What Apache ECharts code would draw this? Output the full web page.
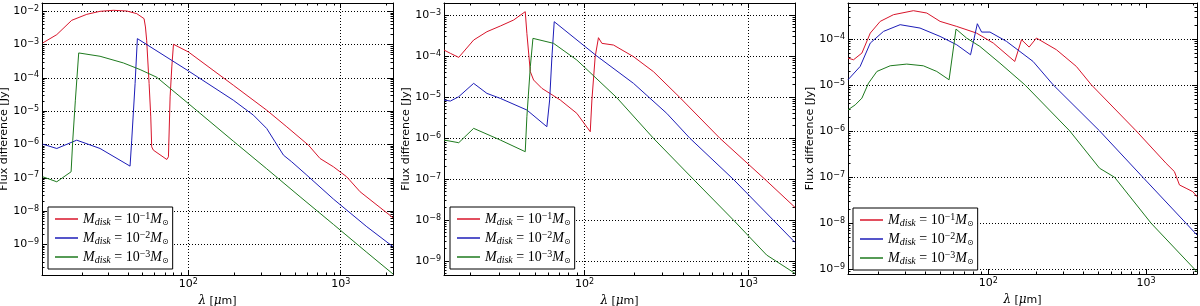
<!DOCTYPE html>
<html><head><meta charset="utf-8">
<script src="https://cdn.jsdelivr.net/npm/echarts@6/dist/echarts.min.js"></script>
<style>html,body{margin:0;padding:0;background:#fff}#c{width:1200px;height:306px}</style>
</head><body><div id="c"></div>
<script>
// ---- Data: log10(lambda [um]) and log10(flux difference [Jy]) ----
const seriesNames = ['Mdisk = 10⁻¹ M⊙', 'Mdisk = 10⁻² M⊙', 'Mdisk = 10⁻³ M⊙'];
const legendExponents = ['−1', '−2', '−3'];

// Panel 1
const p1RedX = [1.044,1.136,1.234,1.333,1.420,1.508,1.595,1.661,1.709,1.718,1.726,1.742,1.753,1.759,1.770,1.858,1.869,1.880,1.891,1.902,2.000,2.295,2.514,2.646,2.788,2.864,2.952,3.039,3.127,3.343];
const p1RedY = [-2.95,-2.70,-2.27,-2.09,-2.00,-1.97,-1.99,-2.07,-2.22,-2.47,-2.87,-4.17,-5.17,-6.07,-6.17,-6.45,-6.37,-4.57,-3.67,-2.99,-3.22,-4.22,-4.97,-5.47,-6.02,-6.42,-6.67,-6.97,-7.42,-8.20];
const p1BlueX = [1.044,1.136,1.267,1.420,1.617,1.628,1.650,1.665,2.000,2.295,2.427,2.514,2.569,2.624,2.678,2.777,2.952,3.171,3.343];
const p1BlueY = [-5.99,-6.12,-5.87,-6.12,-6.65,-5.87,-4.17,-2.82,-3.79,-4.67,-5.12,-5.52,-5.92,-6.32,-6.52,-6.92,-7.64,-8.47,-9.07];
const p1GreenX = [1.044,1.136,1.230,1.241,1.258,1.280,1.420,1.573,1.683,1.792,2.000,2.295,2.514,2.733,2.952,3.171,3.343];
const p1GreenY = [-6.97,-7.12,-6.82,-5.87,-4.67,-3.25,-3.35,-3.55,-3.75,-3.98,-4.77,-5.90,-6.73,-7.57,-8.40,-9.24,-9.89];

// Panel 2
const p2RedX = [1.142,1.181,1.232,1.323,1.404,1.486,1.567,1.638,1.648,1.669,1.689,1.740,1.852,1.953,2.035,2.045,2.065,2.085,2.106,2.177,2.299,2.421,2.583,2.827,3.102,3.285];
const p2RedY = [-3.854,-3.935,-4.033,-3.610,-3.407,-3.268,-3.122,-2.919,-3.447,-4.382,-4.585,-4.789,-5.073,-5.398,-5.846,-5.073,-4.016,-3.553,-3.691,-3.732,-4.016,-4.382,-5.016,-6.008,-7.008,-7.691];
const p2BlueX = [1.142,1.181,1.232,1.323,1.404,1.486,1.648,1.770,1.787,1.801,1.815,2.075,2.299,2.502,2.644,2.909,3.152,3.285];
const p2BlueY = [-5.073,-5.098,-4.992,-4.667,-4.911,-5.033,-5.317,-5.724,-5.073,-4.016,-3.163,-4.000,-4.667,-5.398,-6.008,-7.008,-8.000,-8.545];
const p2GreenX = [1.142,1.232,1.323,1.486,1.638,1.648,1.669,1.685,1.811,1.953,2.197,2.421,2.665,2.909,3.112,3.285];
const p2GreenY = [-6.049,-6.114,-5.764,-6.049,-6.333,-5.480,-4.260,-3.569,-3.691,-4.098,-5.016,-6.008,-7.008,-8.000,-8.854,-9.301];

// Panel 3
const p3RedX = [1.112,1.147,1.200,1.253,1.316,1.400,1.526,1.611,1.695,1.800,1.926,2.032,2.168,2.211,2.259,2.305,2.432,2.558,2.653,2.937,3.126,3.179,3.211,3.253,3.295,3.322];
const p3RedY = [-4.413,-4.449,-4.304,-3.870,-3.616,-3.471,-3.384,-3.435,-3.616,-3.725,-3.870,-4.087,-4.486,-4.014,-4.174,-3.978,-4.232,-4.594,-4.993,-5.993,-6.696,-6.877,-7.167,-7.239,-7.312,-7.420];
const p3BlueX = [1.112,1.189,1.253,1.337,1.442,1.568,1.695,1.800,1.888,1.931,1.958,2.011,2.116,2.284,2.411,2.705,2.979,3.253,3.322];
const p3BlueY = [-4.884,-4.594,-4.087,-3.833,-3.688,-3.761,-3.942,-4.123,-4.341,-3.667,-3.848,-3.848,-4.051,-4.486,-4.993,-5.993,-7.000,-8.000,-8.254];
const p3GreenX = [1.112,1.158,1.200,1.242,1.295,1.379,1.484,1.589,1.674,1.752,1.796,1.863,1.947,2.074,2.232,2.516,2.705,2.800,3.032,3.322];
const p3GreenY = [-5.536,-5.428,-5.283,-4.957,-4.703,-4.580,-4.543,-4.580,-4.703,-4.884,-3.783,-3.978,-4.159,-4.522,-4.993,-5.993,-6.804,-7.000,-8.000,-9.051];

// Axis extents (log10) and tick labels (decade exponents)
const xExtents = [[1.039, 3.343], [1.142, 3.285], [1.112, 3.322]];
const yExtents = [[-9.92, -1.75], [-9.34, -2.707], [-9.10, -3.217]];
const xLabelExps = [2, 3];
const p1YLabelExps = [-9, -8, -7, -6, -5, -4, -3, -2];
const p2YLabelExps = [-9, -8, -7, -6, -5, -4, -3];
const p3YLabelExps = [-9, -8, -7, -6, -5, -4];
const yLabelExps = [p1YLabelExps, p2YLabelExps, p3YLabelExps];

// ---- Layout / style ----
const grids = [
  {left: 42, top: 3, width: 351, height: 272},
  {left: 444, top: 3, width: 351, height: 272},
  {left: 848, top: 3, width: 349, height: 271}
];
const showVGrid = [true, true, false];
const legendPos = [{left: 48, top: 207}, {left: 450, top: 207}, {left: 853, top: 208}];
const colors = ['#d8142a', '#1c1cb8', '#1e7a1e'];

const panels = [
  [[p1RedX, p1RedY], [p1BlueX, p1BlueY], [p1GreenX, p1GreenY]],
  [[p2RedX, p2RedY], [p2BlueX, p2BlueY], [p2GreenX, p2GreenY]],
  [[p3RedX, p3RedY], [p3BlueX, p3BlueY], [p3GreenX, p3GreenY]]
];

function majors(ext) {
  const out = [];
  for (let d = Math.ceil(ext[0]); d <= Math.floor(ext[1]); d++) out.push(d);
  return out;
}
function minors(ext) {
  const out = [];
  for (let d = Math.floor(ext[0]); d <= Math.ceil(ext[1]); d++) {
    for (let k = 2; k <= 9; k++) {
      const v = d + Math.log10(k);
      if (v > ext[0] && v < ext[1]) out.push(v);
    }
  }
  return out;
}
const expFmt = v => '{b|10}{e|' + String(Math.round(v)).replace('-', '−') + '}';
const labelRich = {
  b: {fontFamily: 'DejaVu Sans', fontSize: 11, lineHeight: 13, color: '#000'},
  e: {fontFamily: 'DejaVu Sans', fontSize: 8, lineHeight: 8, verticalAlign: 'top', color: '#000'}
};

const grid = [], xAxis = [], yAxis = [], series = [], legend = [];
grids.forEach((g, p) => {
  grid.push(Object.assign({outerBoundsMode: 'none', containLabel: false}, g));
  const xe = xExtents[p], ye = yExtents[p];
  const common = (ext) => ({type: 'value', gridIndex: p, min: ext[0], max: ext[1], scale: true});
  // X axes: bottom major (labels, grid), bottom minor, top major, top minor
  xAxis.push(Object.assign(common(xe), {
    position: 'bottom', splitNumber: 2,
    axisLine: {show: true, onZero: false, lineStyle: {color: '#000', width: 1}},
    axisTick: {show: true, inside: true, length: 5, customValues: majors(xe), lineStyle: {color: '#000', width: 1}},
    axisLabel: {show: true, customValues: xLabelExps, margin: 3, formatter: expFmt, rich: labelRich},
    splitLine: {show: showVGrid[p], lineStyle: {color: '#000', width: 1, type: [1, 2]}},
    name: '{g|λ}{t| [}{g|μ}{t|m]}', nameLocation: 'middle', nameGap: 15,
    nameTextStyle: {rich: {
      g: {fontFamily: 'DejaVu Serif', fontStyle: 'italic', fontSize: 12, color: '#000'},
      t: {fontFamily: 'DejaVu Sans', fontSize: 11, color: '#000'}
    }}
  }));
  xAxis.push(Object.assign(common(xe), {
    position: 'bottom', axisLine: {show: false, onZero: false},
    axisTick: {show: true, inside: true, length: 2.5, customValues: minors(xe), lineStyle: {color: '#000', width: 1}},
    axisLabel: {show: false}, splitLine: {show: false}
  }));
  xAxis.push(Object.assign(common(xe), {
    position: 'top', axisLine: {show: true, onZero: false, lineStyle: {color: '#000', width: 1}},
    axisTick: {show: true, inside: true, length: 5, customValues: majors(xe), lineStyle: {color: '#000', width: 1}},
    axisLabel: {show: false}, splitLine: {show: false}
  }));
  xAxis.push(Object.assign(common(xe), {
    position: 'top', axisLine: {show: false, onZero: false},
    axisTick: {show: true, inside: true, length: 2.5, customValues: minors(xe), lineStyle: {color: '#000', width: 1}},
    axisLabel: {show: false}, splitLine: {show: false}
  }));
  // Y axes
  yAxis.push(Object.assign(common(ye), {
    position: 'left', splitNumber: Math.round(ye[1] - ye[0]),
    axisLine: {show: true, onZero: false, lineStyle: {color: '#000', width: 1}},
    axisTick: {show: true, inside: true, length: 5, customValues: majors(ye), lineStyle: {color: '#000', width: 1}},
    axisLabel: {show: true, customValues: yLabelExps[p], margin: 3, formatter: expFmt, rich: labelRich},
    splitLine: {show: true, lineStyle: {color: '#000', width: 1, type: [1, 2]}},
    name: 'Flux difference [Jy]', nameLocation: 'middle', nameGap: 30, nameRotate: 90,
    nameTextStyle: {fontFamily: 'DejaVu Sans', fontSize: 11, color: '#000'}
  }));
  yAxis.push(Object.assign(common(ye), {
    position: 'left', axisLine: {show: false, onZero: false},
    axisTick: {show: true, inside: true, length: 2.5, customValues: minors(ye), lineStyle: {color: '#000', width: 1}},
    axisLabel: {show: false}, splitLine: {show: false}
  }));
  yAxis.push(Object.assign(common(ye), {
    position: 'right', axisLine: {show: true, onZero: false, lineStyle: {color: '#000', width: 1}},
    axisTick: {show: true, inside: true, length: 5, customValues: majors(ye), lineStyle: {color: '#000', width: 1}},
    axisLabel: {show: false}, splitLine: {show: false}
  }));
  yAxis.push(Object.assign(common(ye), {
    position: 'right', axisLine: {show: false, onZero: false},
    axisTick: {show: true, inside: true, length: 2.5, customValues: minors(ye), lineStyle: {color: '#000', width: 1}},
    axisLabel: {show: false}, splitLine: {show: false}
  }));

  panels[p].forEach((c, i) => {
    series.push({
      type: 'line', name: seriesNames[i], xAxisIndex: p * 4, yAxisIndex: p * 4,
      data: c[0].map((x, k) => [x, c[1][k]]),
      showSymbol: false, symbol: 'none', smooth: false, clip: true,
      lineStyle: {color: colors[i], width: 1}, itemStyle: {color: colors[i]},
      emphasis: {disabled: true}, z: 3
    });
  });

  legend.push(Object.assign({
    orient: 'vertical', data: seriesNames, icon: 'rect', itemWidth: 23, itemHeight: 1.5,
    itemGap: 3, padding: [4, 4, 4, 7], borderColor: '#000', borderWidth: 1, borderRadius: 0,
    backgroundColor: '#fff', selectedMode: false, z: 5,
    formatter: name => '{m|M}{s|disk}{n| = 10}{e|' + legendExponents[seriesNames.indexOf(name)] + '}{m|M}{o|⊙}',
    textStyle: {color: '#000', rich: {
      m: {fontFamily: 'Liberation Serif', fontStyle: 'italic', fontSize: 14, lineHeight: 16, color: '#000'},
      s: {fontFamily: 'Liberation Serif', fontStyle: 'italic', fontSize: 10, lineHeight: 9, verticalAlign: 'bottom', color: '#000'},
      n: {fontFamily: 'Liberation Serif', fontSize: 14, lineHeight: 16, color: '#000'},
      e: {fontFamily: 'Liberation Serif', fontSize: 10, lineHeight: 9, verticalAlign: 'top', color: '#000'},
      o: {fontFamily: 'DejaVu Sans', fontSize: 8, lineHeight: 9, verticalAlign: 'bottom', color: '#000'}
    }}
  }, legendPos[p]));
});

const chart = echarts.init(document.getElementById('c'), null, {renderer: 'canvas'});
chart.setOption({
  animation: false,
  backgroundColor: '#fff',
  grid, xAxis, yAxis, series, legend,
  tooltip: {show: false}
});
</script>
</body></html>
